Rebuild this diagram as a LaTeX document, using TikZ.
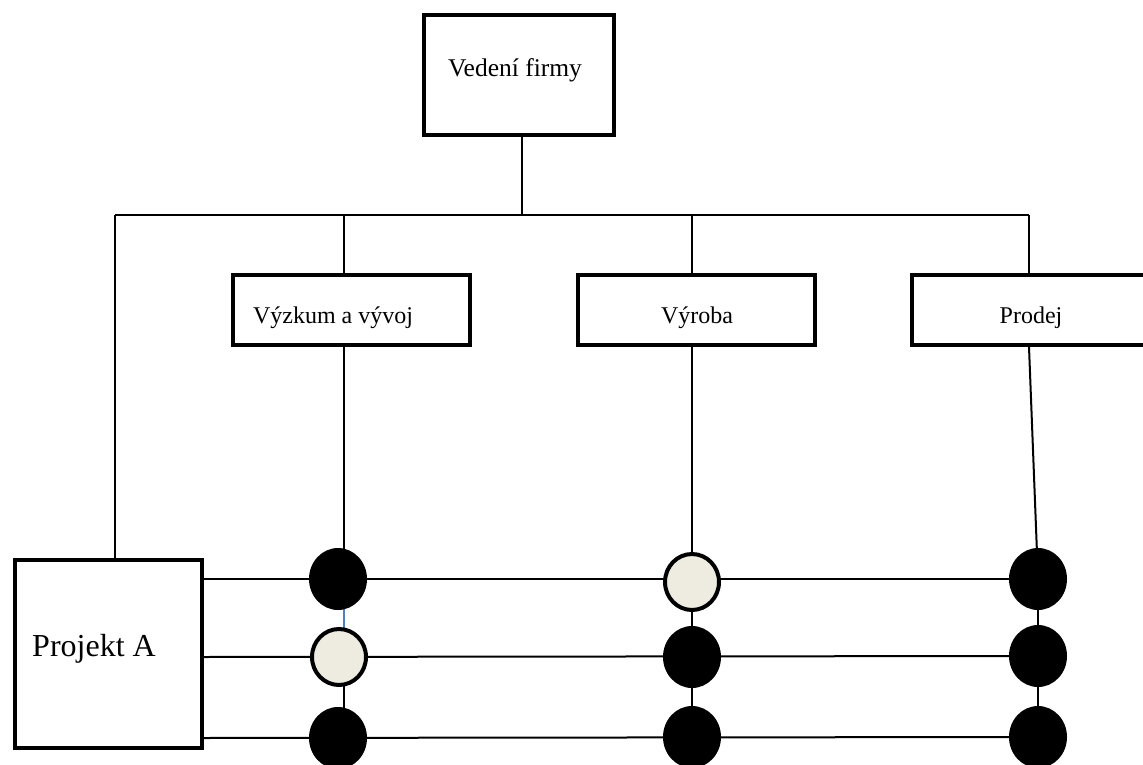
\documentclass[tikz,border=0pt]{standalone}
\usepackage{fontspec}
\setmainfont{Liberation Serif}
\usetikzlibrary{shapes.geometric,backgrounds}
\definecolor{linkblue}{HTML}{4F81BD}
\definecolor{paper}{HTML}{EEECE1}
\begin{document}
\begin{tikzpicture}[x=1pt,y=-1pt,
  unitbox/.style={draw,line width=4pt,fill=white,inner sep=0pt,rectangle},
  lbl/.style={anchor=base,inner sep=0pt,font=\fontsize{24}{28}\selectfont},
  wire/.style={line width=2pt},
  dotfull/.style={ellipse,fill=black,inner sep=0pt,minimum width=58pt,minimum height=62pt},
  dotopen/.style={ellipse,draw=black,fill=paper,line width=4pt,inner sep=0pt,minimum width=54pt,minimum height=56pt}]
\useasboundingbox (0,0) rectangle (1143,765);
\clip (0,0) rectangle (1143,765);

% organisation boxes
\node[unitbox,minimum width=190pt,minimum height=120pt] (vf) at (519,75) {};
\node[unitbox,minimum width=237pt,minimum height=70pt] (vv) at (351.5,310) {};
\node[unitbox,minimum width=237pt,minimum height=70pt] (vy) at (696.5,310) {};
\node[unitbox,minimum width=237pt,minimum height=70pt] (pd) at (1030.5,310) {};
\node[unitbox,minimum width=187pt,minimum height=188pt] (pa) at (108.5,654) {};

% box captions
\node[lbl,font=\fontsize{25.5}{30}\selectfont] (tvf) at (515,77) {Vedení firmy};
\node[lbl] (tvv) at (333,323) {Výzkum a vývoj};
\node[lbl] (tvy) at (697,323) {Výroba};
\node[lbl] (tpd) at (1031,323) {Prodej};
\node[lbl,font=\fontsize{32}{36}\selectfont] (tpa) at (94,656) {Projekt A};

% matrix junctions
\node[dotfull] (c11) at (338,579) {};
\node[dotopen] (c12) at (339,657) {};
\node[dotfull] (c13) at (338,738) {};
\node[dotopen] (c21) at (692,582) {};
\node[dotfull] (c22) at (692,657) {};
\node[dotfull] (c23) at (692,737) {};
\node[dotfull] (c31) at (1038,579) {};
\node[dotfull] (c32) at (1038,656) {};
\node[dotfull] (c33) at (1038,737) {};

% bus junctions
\coordinate (j0) at (522,215);
\coordinate (jL) at (115,215);
\coordinate (b1) at (344,215);
\coordinate (b2) at (692,215);
\coordinate (b3) at (1029,215);

\begin{pgfonlayer}{background}
  \draw[wire] (j0 |- vf.south) -- (j0);
  \draw[wire] (jL) -- (b3);
  \draw[wire] (jL) -- (jL |- pa.north);
  \draw[wire] (b1) -- (b1 |- vv.north);
  \draw[wire] (b2) -- (b2 |- vy.north);
  \draw[wire] (b3) -- (b3 |- pd.north);
  % department lines down to the project rows
  \draw[wire] (b1 |- vv.south) -- (b1 |- c11);
  \draw[wire] (b2 |- vy.south) -- (c21);
  \draw[wire] (b3 |- pd.south) -- (c31);
  % column links
  \draw[wire,linkblue] (b1 |- c11) -- (b1 |- c12);
  \draw[wire] (b1 |- c12) -- (b1 |- c13);
  \draw[wire] (c21) -- (c22) -- (c23);
  \draw[wire] (c31) -- (c32) -- (c33);
  % project rows
  \draw[wire] (pa.east |- c11) -- (c31);
  \draw[wire] (pa.east |- c12) -- (c32);
  \draw[wire] (pa.east |- c13) -- (c33);
\end{pgfonlayer}
\end{tikzpicture}
\end{document}
